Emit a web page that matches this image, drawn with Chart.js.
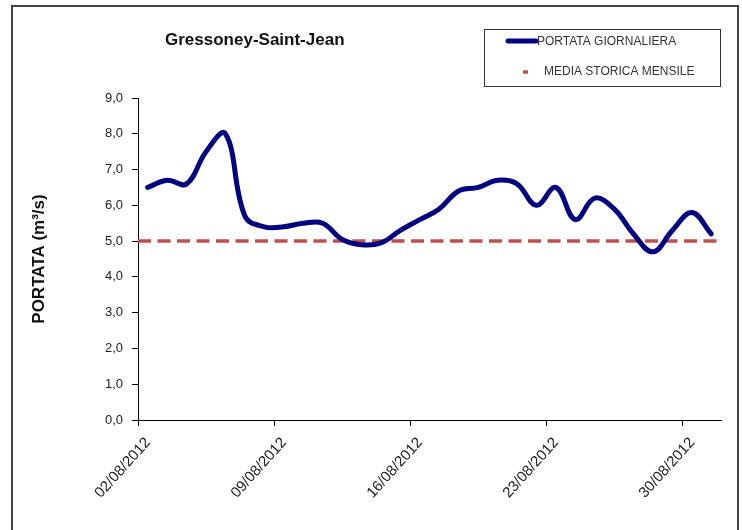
<!DOCTYPE html>
<html lang="it">
<head>
  <meta charset="UTF-8">
  <title>Gressoney-Saint-Jean - Portata</title>
  <script src="https://cdn.jsdelivr.net/npm/chart.js"></script>
  <style>
    * { margin: 0; padding: 0; box-sizing: border-box; }
    body { background: #fff; width: 742px; height: 530px; overflow: hidden; }
    canvas { display: block; }
  </style>
</head>
<body>
  <canvas id="chart" width="742" height="530"></canvas>

  <script>
    // giorni di agosto 2012 (categorie)
    const DATES = [
      '02/08/2012', '03/08/2012', '04/08/2012', '05/08/2012', '06/08/2012',
      '07/08/2012', '08/08/2012', '09/08/2012', '10/08/2012', '11/08/2012',
      '12/08/2012', '13/08/2012', '14/08/2012', '15/08/2012', '16/08/2012',
      '17/08/2012', '18/08/2012', '19/08/2012', '20/08/2012', '21/08/2012',
      '22/08/2012', '23/08/2012', '24/08/2012', '25/08/2012', '26/08/2012',
      '27/08/2012', '28/08/2012', '29/08/2012', '30/08/2012', '31/08/2012'
    ];
    // portata giornaliera (m3/s)
    const PORTATA = [
      6.5, 6.7, 6.6, 7.5, 8.0, 5.7, 5.4, 5.4, 5.5, 5.5,
      5.05, 4.9, 4.95, 5.3, 5.6, 5.9, 6.4, 6.5, 6.7, 6.6,
      6.0, 6.5, 5.6, 6.2, 5.9, 5.2, 4.7, 5.3, 5.8, 5.2
    ];
    const MEDIA_MENSILE = 5.0;
    const X_TICK_LABELS = ['02/08/2012', '09/08/2012', '16/08/2012', '23/08/2012', '30/08/2012'];
    const Y_TICKS = [0, 1, 2, 3, 4, 5, 6, 7, 8, 9];

    const TITLE = 'Gressoney-Saint-Jean';
    const Y_TITLE = 'PORTATA (m\u00B3/s)';
    const FONT = "'Liberation Sans', Arial, sans-serif";

    // tick marks sit on the category boundaries, Excel style
    const xTickPos = X_TICK_LABELS.map(l => DATES.indexOf(l) - 0.5);

    const decor = {
      id: 'decor',
      beforeDraw(chart) {
        const ctx = chart.ctx;
        ctx.save();
        // cornice esterna
        ctx.strokeStyle = '#444';
        ctx.lineWidth = 2;
        ctx.beginPath();
        ctx.moveTo(12, 530);
        ctx.lineTo(12, 6);
        ctx.lineTo(738, 6);
        ctx.lineTo(738, 530);
        ctx.stroke();
        ctx.restore();
      },
      afterDraw(chart) {
        const ctx = chart.ctx;
        const ds = chart.data.datasets;
        ctx.save();
        // titolo
        ctx.fillStyle = '#111';
        ctx.font = 'bold 17px ' + FONT;
        ctx.textBaseline = 'alphabetic';
        ctx.textAlign = 'left';
        ctx.fillText(TITLE, 165, 45);

        // legenda
        ctx.strokeStyle = '#333';
        ctx.lineWidth = 1;
        ctx.strokeRect(484.5, 29.5, 236, 57);
        ctx.font = '12px ' + FONT;
        ctx.textBaseline = 'middle';
        ctx.fillStyle = '#333';

        ctx.strokeStyle = ds[0].borderColor;
        ctx.lineWidth = 5;
        ctx.lineCap = 'round';
        ctx.beginPath();
        ctx.moveTo(508, 41);
        ctx.lineTo(536, 41);
        ctx.stroke();
        ctx.fillText(ds[0].label, 537, 42);

        ctx.strokeStyle = ds[1].borderColor;
        ctx.lineWidth = 3.5;
        ctx.lineCap = 'butt';
        ctx.beginPath();
        ctx.moveTo(523, 72);
        ctx.lineTo(528, 72);
        ctx.stroke();
        ctx.fillText(ds[1].label, 544, 72);
        ctx.restore();
      }
    };

    new Chart(document.getElementById('chart'), {
      type: 'line',
      data: {
        datasets: [{
          label: 'PORTATA GIORNALIERA',
          data: PORTATA.map((v, i) => ({ x: i, y: v })),
          borderColor: '#000080',
          borderWidth: 5,
          pointRadius: 0,
          tension: 0.4,
          borderCapStyle: 'round',
          fill: false
        }, {
          label: 'MEDIA STORICA MENSILE',
          data: [{ x: -0.5, y: MEDIA_MENSILE }, { x: DATES.length - 0.5, y: MEDIA_MENSILE }],
          borderColor: '#c0504d',
          borderWidth: 3.5,
          borderDash: [13, 6.5],
          pointRadius: 0,
          fill: false
        }]
      },
      options: {
        responsive: false,
        animation: false,
        layout: { padding: { top: 98, right: 21, bottom: 0, left: 0 } },
        plugins: {
          legend: { display: false },
          tooltip: { enabled: false }
        },
        scales: {
          x: {
            type: 'linear',
            min: -0.5,
            max: DATES.length - 0.5,
            afterBuildTicks: s => { s.ticks = xTickPos.map(v => ({ value: v })); },
            afterFit: s => { s.height = 110; },
            grid: { display: true, drawOnChartArea: false, drawTicks: true, tickLength: 6, color: '#000' },
            border: { display: true, color: '#000', width: 1 },
            ticks: {
              autoSkip: false,
              minRotation: 48,
              maxRotation: 48,
              padding: 8,
              labelOffset: 10,
              color: '#222',
              font: { family: FONT, size: 15 },
              callback: v => DATES[Math.round(v + 0.5)]
            }
          },
          y: {
            min: 0,
            max: 9,
            afterBuildTicks: s => { s.ticks = Y_TICKS.map(v => ({ value: v })); },
            afterFit: s => { s.width = 138; },
            grid: { display: true, drawOnChartArea: false, drawTicks: true, tickLength: 6, color: '#000' },
            border: { display: true, color: '#000', width: 1 },
            title: {
              display: true,
              text: Y_TITLE,
              color: '#111',
              font: { family: FONT, size: 17, weight: 'bold' },
              padding: { top: 29, bottom: 0 }
            },
            ticks: {
              padding: 9,
              color: '#222',
              font: { family: FONT, size: 13 },
              callback: v => v.toFixed(1).replace('.', ',')
            }
          }
        }
      },
      plugins: [decor]
    });
  </script>
</body>
</html>
